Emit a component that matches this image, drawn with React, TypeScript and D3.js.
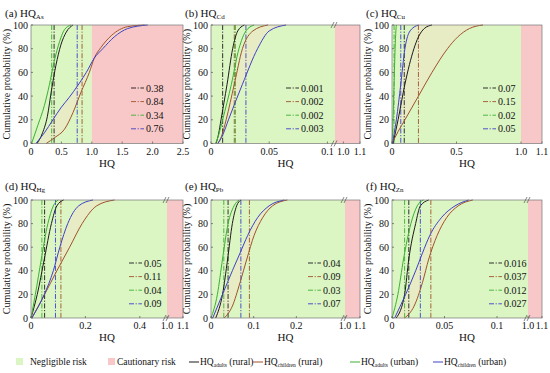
import React from 'react';
import * as d3 from 'd3';

type Pt = [number, number];

// series order: adults (rural), children (rural), adults (urban), children (urban)
const seriesColors = ['#1b1b1b', '#a0522d', '#3cb034', '#4040c8'];
const groupNames = ['adults', 'children', 'adults', 'children'];
const placeNames = ['(rural)', '(rural)', '(urban)', '(urban)'];

const panelLetters = ['(a)', '(b)', '(c)', '(d)', '(e)', '(f)'];
const metals = ['As', 'Cd', 'Cu', 'Hg', 'Pb', 'Zn'];

// (a) As
const asAdultsRural: Pt[] = [[0.1, 0], [0.19, 9], [0.27, 23], [0.34, 46], [0.41, 66], [0.49, 83], [0.58, 94], [0.69, 100]];
const asChildrenRural: Pt[] = [[0.25, 0], [0.39, 5], [0.55, 12], [0.69, 26], [0.82, 43], [0.96, 60], [1.04, 72], [1.15, 81], [1.32, 91], [1.59, 98.6], [1.87, 100]];
const asAdultsUrban: Pt[] = [[0.01, 0], [0.11, 15], [0.22, 32], [0.3, 49], [0.38, 69], [0.47, 86], [0.55, 96], [0.66, 100]];
const asChildrenUrban: Pt[] = [[0.08, 0], [0.22, 9], [0.36, 20], [0.49, 30], [0.63, 39], [0.77, 49], [0.91, 60], [1.04, 72], [1.18, 80], [1.37, 90], [1.59, 97], [1.92, 100]];

// (b) Cd
const cdAdultsRural: Pt[] = [[0.0043, 0], [0.0065, 8], [0.0086, 20], [0.0138, 50], [0.0186, 80], [0.023, 95], [0.0287, 100]];
const cdChildrenRural: Pt[] = [[0.0057, 0], [0.009, 6], [0.013, 20], [0.02, 50], [0.027, 80], [0.036, 95], [0.049, 100]];
const cdAdultsUrban: Pt[] = [[0.004, 0], [0.0065, 7], [0.01, 20], [0.0175, 50], [0.024, 80], [0.03, 95], [0.037, 100]];
const cdChildrenUrban: Pt[] = [[0.006, 0], [0.01, 7], [0.015, 20], [0.027, 50], [0.04, 80], [0.05, 95], [0.0645, 100]];

// (c) Cu
const cuAdultsRural: Pt[] = [[0.008, 0], [0.047, 20], [0.1, 50], [0.17, 80], [0.205, 90], [0.25, 97], [0.31, 100]];
const cuChildrenRural: Pt[] = [[0.0, 0], [0.047, 10], [0.1, 20], [0.205, 40], [0.31, 60], [0.43, 80], [0.51, 90], [0.6, 97], [0.705, 100]];
const cuAdultsUrban: Pt[] = [[0.0, 0], [0.008, 20], [0.016, 50], [0.024, 80], [0.03, 95], [0.034, 100]];
const cuChildrenUrban: Pt[] = [[0.003, 0], [0.034, 20], [0.068, 50], [0.1, 80], [0.14, 95], [0.205, 100]];

// (d) Hg
const hgAdultsRural: Pt[] = [[0.0, 0], [0.023, 20], [0.049, 50], [0.075, 80], [0.095, 95], [0.12, 100]];
const hgChildrenRural: Pt[] = [[0.003, 0], [0.05, 20], [0.095, 40], [0.142, 60], [0.188, 80], [0.241, 95], [0.307, 100]];
const hgAdultsUrban: Pt[] = [[0.0, 0], [0.016, 20], [0.038, 50], [0.062, 80], [0.082, 95], [0.1, 100]];
const hgChildrenUrban: Pt[] = [[0.003, 0], [0.049, 20], [0.082, 40], [0.106, 60], [0.135, 80], [0.175, 95], [0.228, 100]];

// (e) Pb
const pbAdultsRural: Pt[] = [[0.011, 0], [0.027, 20], [0.039, 50], [0.05, 80], [0.06, 95], [0.07, 100]];
const pbChildrenRural: Pt[] = [[0.031, 0], [0.05, 10], [0.068, 30], [0.084, 50], [0.101, 70], [0.121, 85], [0.144, 95], [0.179, 100]];
const pbAdultsUrban: Pt[] = [[0.0, 0], [0.015, 20], [0.027, 50], [0.04, 80], [0.054, 95], [0.066, 100]];
const pbChildrenUrban: Pt[] = [[0.004, 0], [0.027, 20], [0.05, 40], [0.068, 55], [0.086, 70], [0.109, 85], [0.136, 95], [0.172, 100]];

// (f) Zn
const znAdultsRural: Pt[] = [[0.004, 0], [0.012, 20], [0.016, 50], [0.0225, 80], [0.027, 95], [0.035, 100]];
const znChildrenRural: Pt[] = [[0.012, 0], [0.021, 10], [0.029, 30], [0.035, 50], [0.043, 70], [0.052, 85], [0.063, 95], [0.077, 100]];
const znAdultsUrban: Pt[] = [[0.0, 0], [0.0056, 20], [0.011, 50], [0.018, 80], [0.024, 95], [0.03, 100]];
const znChildrenUrban: Pt[] = [[0.0025, 0], [0.013, 20], [0.0225, 40], [0.029, 55], [0.036, 70], [0.047, 85], [0.06, 95], [0.073, 100]];

const panelSeries: Pt[][][] = [
  [asAdultsRural, asChildrenRural, asAdultsUrban, asChildrenUrban],
  [cdAdultsRural, cdChildrenRural, cdAdultsUrban, cdChildrenUrban],
  [cuAdultsRural, cuChildrenRural, cuAdultsUrban, cuChildrenUrban],
  [hgAdultsRural, hgChildrenRural, hgAdultsUrban, hgChildrenUrban],
  [pbAdultsRural, pbChildrenRural, pbAdultsUrban, pbChildrenUrban],
  [znAdultsRural, znChildrenRural, znAdultsUrban, znChildrenUrban],
];

// vertical dash-dot lines (where drawn) and the values printed in each panel legend
const meanLines = [
  [0.38, 0.84, 0.34, 0.76],
  [0.01, 0.02, 0.021, 0.03],
  [0.095, 0.205, 0.016, 0.068],
  [0.05, 0.11, 0.04, 0.09],
  [0.04, 0.09, 0.03, 0.07],
  [0.016, 0.037, 0.012, 0.027],
];
const meanLabels = [
  ['0.38', '0.84', '0.34', '0.76'],
  ['0.001', '0.002', '0.002', '0.003'],
  ['0.07', '0.15', '0.02', '0.05'],
  ['0.05', '0.11', '0.04', '0.09'],
  ['0.04', '0.09', '0.03', '0.07'],
  ['0.016', '0.037', '0.012', '0.027'],
];

const xTicks = [
  [0, 0.5, 1, 1.5, 2, 2.5],
  [0, 0.05, 0.1, 1.0, 1.1],
  [0, 0.5, 1.0, 1.1],
  [0, 0.2, 0.4, 1.0, 1.1],
  [0, 0.1, 0.2, 1.0, 1.1],
  [0, 0.05, 0.1, 1.0, 1.1],
];
const xTickLabels = [
  ['0', '0.5', '1.0', '1.5', '2.0', '2.5'],
  ['0', '0.05', '0.1', '1.0', '1.1'],
  ['0', '0.5', '1.0', '1.1'],
  ['0', '0.2', '0.4', '1.0', '1.1'],
  ['0', '0.1', '0.2', '1.0', '1.1'],
  ['0', '0.05', '0.1', '1.0', '1.1'],
];
const yTicks = [0, 20, 40, 60, 80, 100];

// broken x axes: x domain pieces, where the risk zone starts
const xDomains = [
  [0, 2.5],
  [0, 0.1065, 0.95, 1.1],
  [0, 1.0, 1.1],
  [0, 0.5, 1.0, 1.1],
  [0, 0.314, 1.0, 1.1],
  [0, 0.1295, 1.0, 1.1],
];
const riskStart = [1.0, 0.95, 1.0, 1.0, 1.0, 1.0];
const hasBreak = [false, true, false, true, true, true];

// layout
const colLeft = [31, 211, 392];
const colWidth = [152, 149, 150];
const rowTop = [25, 200];
const rowHeight = [118.5, 118];
const brkPx = [0, 124, 129, 136, 134, 136];
const legendTextX = [115, 90, 106, 113, 112, 112];

const FONT = "'Liberation Serif', serif";
const GREEN_BG = '#dbf5c3';
const RED_BG = '#f8c8c8';
const DASH = '5,1.6,1.2,1.6';

const line = d3.line<Pt>().curve(d3.curveMonotoneX);

function Panel({ i }: { i: number }) {
  const col = i % 3;
  const row = Math.floor(i / 3);
  const left = colLeft[col];
  const top = rowTop[row];
  const w = colWidth[col];
  const h = rowHeight[row];
  const dom = xDomains[i];
  const range = dom.length === 2 ? [0, w] : dom.length === 3 ? [0, brkPx[i], w] : [0, brkPx[i], brkPx[i], w];
  const x = d3.scaleLinear().domain(dom).range(range);
  const y = d3.scaleLinear().domain([0, 100]).range([h, 0]);
  const rx = x(riskStart[i]);
  line.x(d => x(d[0])).y(d => y(d[1]));

  const series = panelSeries[i];
  // faint band between the two children curves
  const bandPath =
    (line(series[1]) || '') + 'L' + (line(series[3].slice().reverse()) || '').slice(1) + 'Z';

  return (
    <g transform={`translate(${left},${top})`} style={{ fontFamily: FONT }} fill="#111">
      <text x={-26} y={row === 0 ? -8 : -10} fontSize={11}>
        {panelLetters[i]} HQ<tspan fontSize={7} dy={2}>{metals[i]}</tspan>
      </text>
      <rect x={0} y={0} width={rx} height={h} fill={GREEN_BG} />
      <rect x={rx} y={0} width={w - rx} height={h} fill={RED_BG} />
      <path d={bandPath} fill="#f9e3c6" opacity={0.45} />
      {meanLines[i].map((v, k) => (
        <line key={'m' + k} x1={x(v)} x2={x(v)} y1={0} y2={h} stroke={seriesColors[k]} strokeWidth={0.9} strokeDasharray={DASH} />
      ))}
      {series.map((pts, k) => (
        <path key={'s' + k} d={line(pts) || ''} fill="none" stroke={seriesColors[k]} strokeWidth={1} />
      ))}
      <rect x={0} y={0} width={w} height={h} fill="none" stroke="#777" strokeWidth={0.7} />
      {hasBreak[i] && [0, h].map(yy => (
        <g key={'b' + yy}>
          {[0, 3].map(o => (
            <line key={o} x1={brkPx[i] - 4 + o} y1={yy + 3} x2={brkPx[i] - 1 + o} y2={yy - 3} stroke="#555" strokeWidth={0.7} />
          ))}
        </g>
      ))}
      {yTicks.map(t => (
        <g key={'y' + t}>
          <line x1={0} x2={2} y1={y(t)} y2={y(t)} stroke="#555" strokeWidth={0.7} />
          <text x={-3} y={y(t)} dy="0.35em" fontSize={10} textAnchor="end">{t}</text>
        </g>
      ))}
      {xTicks[i].map((t, k) => (
        <g key={'x' + k}>
          <line x1={x(t)} x2={x(t)} y1={h} y2={h - 2} stroke="#555" strokeWidth={0.7} />
          <text x={x(t)} y={h + 11} fontSize={10} textAnchor="middle">{xTickLabels[i][k]}</text>
        </g>
      ))}
      <text x={w / 2} y={h + 23} fontSize={11} textAnchor="middle">HQ</text>
      <text transform={`translate(${-21},${h / 2}) rotate(-90)`} fontSize={10} textAnchor="middle">
        Cumulative probability (%)
      </text>
      {meanLabels[i].map((lab, k) => {
        const ly = 63 + k * 13.6;
        const tx = legendTextX[i];
        return (
          <g key={'l' + k}>
            <line x1={tx - 15} x2={tx - 2} y1={ly} y2={ly} stroke={seriesColors[k]} strokeWidth={0.9} strokeDasharray={DASH} />
            <text x={tx} y={ly} dy="0.35em" fontSize={10}>{lab}</text>
          </g>
        );
      })}
    </g>
  );
}

const legendLineX = [189, 253, 350, 433];

export default function App() {
  return (
    <svg width={550} height={373} style={{ position: 'absolute', left: 0, top: 0, background: '#fff' }}>
      {d3.range(6).map(i => <Panel key={i} i={i} />)}
      <g style={{ fontFamily: FONT }} fontSize={9.5} fill="#111">
        <rect x={16} y={358} width={7} height={7} fill={GREEN_BG} />
        <text x={30} y={362} dy="0.35em">Negligible risk</text>
        <rect x={108} y={358} width={7} height={7} fill={RED_BG} />
        <text x={117} y={362} dy="0.35em">Cautionary risk</text>
        {seriesColors.map((c, k) => (
          <g key={k}>
            <line x1={legendLineX[k]} x2={legendLineX[k] + 10} y1={362} y2={362} stroke={c} strokeWidth={1} />
            <text x={legendLineX[k] + 11} y={362} dy="0.35em">
              HQ<tspan fontSize={5.5} dy={2}>{groupNames[k]}</tspan>
              <tspan dy={-2}> {placeNames[k]}</tspan>
            </text>
          </g>
        ))}
      </g>
    </svg>
  );
}
